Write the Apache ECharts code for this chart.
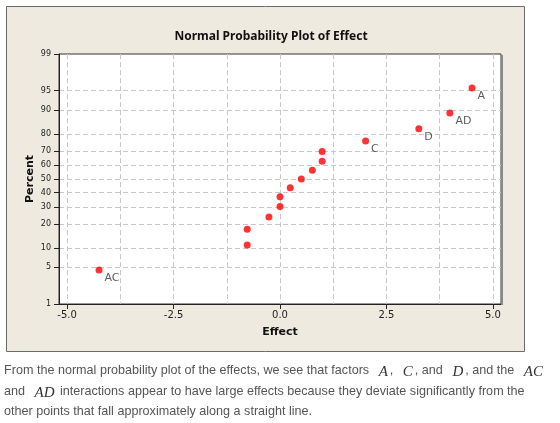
<!DOCTYPE html>
<html>
<head>
<meta charset="utf-8">
<script src="https://cdn.jsdelivr.net/npm/echarts@6/dist/echarts.min.js"></script>
<style>
  html, body { margin: 0; padding: 0; background: #fff; }
  #chart { position: absolute; left: 0; top: 0; width: 560px; height: 360px; }
  #caption { position: absolute; left: 4px; top: 359px; width: 556px; white-space: nowrap;
    font-family: "Liberation Sans", Arial, sans-serif; font-size: 12.6px; line-height: 20px; color: #555; }
  #caption i { font-family: "Liberation Serif", serif; font-size: 15px; color: #333; margin: 0 2px 0 6px; position: relative; top: 2px; }
</style>
</head>
<body>
<div id="chart"></div>
<div id="caption">From the normal probability plot of the effects, we see that factors <i>A</i>, <i>C</i>, and <i>D</i>, and the <i>AC</i><br>and <i>AD</i> interactions appear to have large effects because they deviate significantly from the<br>other points that fall approximately along a straight line.</div>
<script>
// ---- data ----
const effects  = [-4.25, -0.77, -0.77, -0.26, 0.0, 0.0, 0.24, 0.50, 0.76, 0.99, 0.99, 2.01, 3.26, 3.99, 4.51];
const percents = [4.5, 11.0, 17.5, 24.0, 30.5, 37.0, 43.5, 50.0, 56.5, 63.0, 69.5, 76.0, 82.5, 89.0, 95.5];
const pointLabels = ["AC", "", "", "", "", "", "", "", "", "", "", "C", "D", "AD", "A"];
const yTickPercents = [1, 5, 10, 20, 30, 40, 50, 60, 70, 80, 90, 95, 99];
const xTickValues = [-5, -2.5, 0, 2.5, 5];
const xGridValues = [-5, -3.75, -2.5, -1.25, 0, 1.25, 2.5, 3.75, 5];

// probability-scale transform (inverse normal CDF, Acklam)
function probit(p) {
  const a = [-3.969683028665376e+01, 2.209460984245205e+02, -2.759285104469687e+02, 1.383577518672690e+02, -3.066479806614716e+01, 2.506628277459239e+00];
  const b = [-5.447609879822406e+01, 1.615858368580409e+02, -1.556989798598866e+02, 6.680131188771972e+01, -1.328068155288572e+01];
  const c = [-7.784894002430293e-03, -3.223964580411365e-01, -2.400758277161838e+00, -2.549732539343734e+00, 4.374664141464968e+00, 2.938163982698783e+00];
  const d = [7.784695709041462e-03, 3.224671290700398e-01, 2.445134137142996e+00, 3.754408661907416e+00];
  const pl = 0.02425, ph = 1 - pl;
  let q, r;
  if (p < pl) { q = Math.sqrt(-2 * Math.log(p));
    return (((((c[0]*q+c[1])*q+c[2])*q+c[3])*q+c[4])*q+c[5]) / ((((d[0]*q+d[1])*q+d[2])*q+d[3])*q+1); }
  if (p <= ph) { q = p - 0.5; r = q*q;
    return (((((a[0]*r+a[1])*r+a[2])*r+a[3])*r+a[4])*r+a[5])*q / (((((b[0]*r+b[1])*r+b[2])*r+b[3])*r+b[4])*r+1); }
  q = Math.sqrt(-2 * Math.log(1 - p));
  return -(((((c[0]*q+c[1])*q+c[2])*q+c[3])*q+c[4])*q+c[5]) / ((((d[0]*q+d[1])*q+d[2])*q+d[3])*q+1);
}
const zOf = pct => probit(pct / 100);
const yTickZ = yTickPercents.map(zOf);
const yGridZ = yTickPercents.slice(1, -1).map(zOf);
const pointData = effects.map((e, i) => ({ value: [e, zOf(percents[i])], name: pointLabels[i] }));

const FONT = "DejaVu Sans";
const chart = echarts.init(document.getElementById('chart'), null, { renderer: 'canvas' });
chart.setOption({
  animation: false,
  backgroundColor: '#ffffff',
  graphic: [
    { type: 'rect', z: -10, shape: { x: 6.5, y: 6.5, width: 518, height: 345 },
      style: { fill: '#eeeae0', stroke: '#6b6b6b', lineWidth: 1 } },
    { type: 'line', z: 10, shape: { x1: 502, y1: 55, x2: 502, y2: 305 },
      style: { stroke: '#8a8a8a', lineWidth: 2 } },
    { type: 'text', z: 10, x: 30, y: 179, rotation: Math.PI / 2,
      style: { text: 'Percent', font: 'bold 11px "DejaVu Sans"', fill: '#111', align: 'center', verticalAlign: 'middle' } },
    { type: 'text', z: 10, x: 280, y: 332,
      style: { text: 'Effect', font: 'bold 11px "DejaVu Sans"', fill: '#111', align: 'center', verticalAlign: 'middle' } }
  ],
  title: {
    text: 'Normal Probability Plot of Effect', left: 266, top: 26, textAlign: 'center',
    textStyle: { fontFamily: 'Noto Sans', fontWeight: 'bold', fontSize: 12, color: '#111' }
  },
  grid: { left: 59, top: 54, width: 442, height: 250, show: true, backgroundColor: '#ffffff',
          borderColor: '#333', borderWidth: 1 },
  xAxis: [
    { type: 'value', min: -5.19, max: 5.19, position: 'bottom',
      axisLine: { show: true, onZero: false, lineStyle: { color: '#222', width: 1 } },
      axisTick: { show: true, length: 5, customValues: xTickValues, lineStyle: { color: '#222' } },
      axisLabel: { customValues: xTickValues, margin: 6, fontFamily: FONT, fontSize: 10, color: '#222',
                   formatter: v => v.toFixed(1) },
      splitLine: { show: false } },
    { type: 'value', min: -5.19, max: 5.19, position: 'bottom', gridIndex: 0,
      axisLine: { show: false }, axisLabel: { show: false },
      axisTick: { show: false, customValues: xGridValues },
      splitLine: { show: true, lineStyle: { color: '#c8c8c8', type: [5, 3], width: 1 } } }
  ],
  yAxis: [
    { type: 'value', min: zOf(1), max: zOf(99),
      axisLine: { show: true, onZero: false, lineStyle: { color: '#222', width: 1 } },
      axisTick: { show: true, length: 5, customValues: yTickZ, lineStyle: { color: '#222' } },
      axisLabel: { customValues: yTickZ, margin: 8, fontFamily: FONT, fontSize: 8, color: '#222',
        formatter: v => { const i = yTickZ.findIndex(z => Math.abs(z - v) < 1e-6); return i >= 0 ? String(yTickPercents[i]) : ''; } },
      splitLine: { show: false } },
    { type: 'value', min: zOf(1), max: zOf(99), position: 'left',
      axisLine: { show: false }, axisLabel: { show: false },
      axisTick: { show: false, customValues: yGridZ },
      splitLine: { show: true, lineStyle: { color: '#c8c8c8', type: [5, 3], width: 1 } } }
  ],
  series: [{
    type: 'scatter', xAxisIndex: 0, yAxisIndex: 0, z: 5,
    symbol: 'circle', symbolSize: 7,
    itemStyle: { color: '#ff0000' },
    label: { show: true, position: [9, 6], align: 'left', verticalAlign: 'top',
             formatter: p => p.name, fontFamily: FONT, fontSize: 11, color: '#333' },
    data: pointData
  }]
});
</script>
</body>
</html>
